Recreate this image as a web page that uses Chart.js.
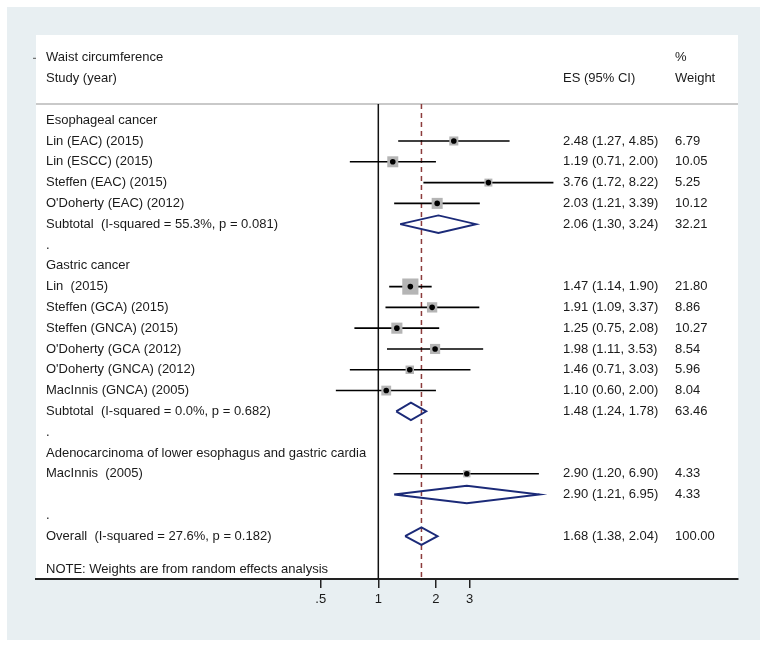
<!DOCTYPE html>
<html>
<head>
<meta charset="utf-8">
<title>Waist circumference forest plot</title>
<script src="https://cdn.jsdelivr.net/npm/chart.js@4.4.0/dist/chart.umd.min.js"></script>
<style>
  html, body { margin: 0; padding: 0; background: #fff; }
</style>
</head>
<body>
<canvas id="forest" width="767" height="648"></canvas>
<script>
// individual studies
var studyNames = ["Lin (EAC) (2015)", "Lin (ESCC) (2015)", "Steffen (EAC) (2015)", "O'Doherty (EAC) (2012)",
  "Lin  (2015)", "Steffen (GCA) (2015)", "Steffen (GNCA) (2015)", "O'Doherty (GCA (2012)",
  "O'Doherty (GNCA) (2012)", "MacInnis (GNCA) (2005)", "MacInnis  (2005)"];
var studyRows = [1, 2, 3, 4, 8, 9, 10, 11, 12, 13, 17];
var studyES = [2.48, 1.19, 3.76, 2.03, 1.47, 1.91, 1.25, 1.98, 1.46, 1.10, 2.90];
var studyLo = [1.27, 0.71, 1.72, 1.21, 1.14, 1.09, 0.75, 1.11, 0.71, 0.60, 1.20];
var studyHi = [4.85, 2.00, 8.22, 3.39, 1.90, 3.37, 2.08, 3.53, 3.03, 2.00, 6.90];
var studyWeight = [6.79, 10.05, 5.25, 10.12, 21.80, 8.86, 10.27, 8.54, 5.96, 8.04, 4.33];

// pooled estimates (diamonds)
var poolNames = ["Subtotal  (I-squared = 55.3%, p = 0.081)", "Subtotal  (I-squared = 0.0%, p = 0.682)", "",
  "Overall  (I-squared = 27.6%, p = 0.182)"];
var poolRows = [5, 14, 18, 20];
var poolES = [2.06, 1.48, 2.90, 1.68];
var poolLo = [1.30, 1.24, 1.21, 1.38];
var poolHi = [3.24, 1.78, 6.95, 2.04];
var poolWeight = [32.21, 63.46, 4.33, 100.00];

// group headings and spacer rows
var groupNames = ["Esophageal cancer", "Gastric cancer", "Adenocarcinoma of lower esophagus and gastric cardia"];
var groupRows = [0, 7, 16];
var dotRows = [6, 15, 19];

var xTicks = [0.5, 1, 2, 3];
var tickText = [".5", "1", "2", "3"];

// scale ranges
var xMin = 0.01628, xMax = 75.7;
var yMin = -4.096, yMax = 22.06;
var ruleRow = -0.78;
var overallES = poolES[3];

var bgColor = '#e8eff2';
var txtColor = '#1a1a1a';
var navy = '#1b2a78';

var datasets = [];

// reference lines
datasets.push({
  data: [{x: xMin, y: ruleRow}, {x: xMax, y: ruleRow}],
  showLine: true, borderColor: '#c9c9c9', borderWidth: 2, pointRadius: 0, order: 9
});
datasets.push({
  data: [{x: 1, y: ruleRow}, {x: 1, y: yMax}],
  showLine: true, borderColor: '#111', borderWidth: 1.5, pointRadius: 0, order: 8
});
datasets.push({
  data: [{x: overallES, y: ruleRow}, {x: overallES, y: yMax}],
  showLine: true, borderColor: '#8c3c3c', borderWidth: 1.5, borderDash: [5, 4], pointRadius: 0, order: 7
});

// confidence interval lines
for (var i = 0; i < studyRows.length; i++) {
  datasets.push({
    data: [{x: studyLo[i], y: studyRows[i]}, {x: studyHi[i], y: studyRows[i]}],
    showLine: true, borderColor: '#000', borderWidth: 1.6, pointRadius: 0, order: 5
  });
}

// weight boxes
datasets.push({
  data: studyRows.map(function(r, i) { return {x: studyES[i], y: r}; }),
  showLine: false, pointStyle: 'rect',
  pointRadius: studyWeight.map(function(w) { return 2.45 * Math.sqrt(w); }),
  backgroundColor: '#b5b5b5', borderWidth: 0, order: 4
});

// point estimates
datasets.push({
  data: studyRows.map(function(r, i) { return {x: studyES[i], y: r}; }),
  showLine: false, pointStyle: 'circle', pointRadius: 2.8,
  backgroundColor: '#000', borderWidth: 0, order: 3
});

// diamonds
for (var j = 0; j < poolRows.length; j++) {
  var r = poolRows[j];
  datasets.push({
    data: [{x: poolLo[j], y: r}, {x: poolES[j], y: r - 0.42}, {x: poolHi[j], y: r},
           {x: poolES[j], y: r + 0.42}, {x: poolLo[j], y: r}],
    showLine: true, borderColor: navy, borderWidth: 1.9, pointRadius: 0, order: 1
  });
}

var panelPlugin = {
  id: 'panel',
  beforeDraw: function(chart) {
    var ctx = chart.ctx, a = chart.chartArea;
    ctx.save();
    ctx.fillStyle = '#fff';
    ctx.fillRect(0, 0, chart.width, chart.height);
    ctx.fillStyle = bgColor;
    ctx.fillRect(7, 7, 753, 633);
    ctx.fillStyle = '#fff';
    ctx.fillRect(a.left, a.top, a.right - a.left, a.bottom - a.top);
    // small stray tick left of the title
    ctx.fillStyle = '#555';
    ctx.fillRect(a.left - 3, chart.scales.y.getPixelForValue(-3), 3, 1);
    ctx.restore();
  }
};

var textPlugin = {
  id: 'forestText',
  afterDraw: function(chart) {
    var ctx = chart.ctx, ys = chart.scales.y;
    ctx.save();
    ctx.font = '13px "Liberation Sans", Arial, sans-serif';
    ctx.fillStyle = txtColor;
    ctx.textBaseline = 'middle';
    function put(t, x, row) { ctx.fillText(t, x, ys.getPixelForValue(row)); }
    function ci(e, l, h) { return e.toFixed(2) + ' (' + l.toFixed(2) + ', ' + h.toFixed(2) + ')'; }

    put('Waist circumference', 46, -3);
    put('Study (year)', 46, -2);
    put('ES (95% CI)', 563, -2);
    put('%', 675, -3);
    put('Weight', 675, -2);

    groupNames.forEach(function(g, k) { put(g, 46, groupRows[k]); });
    dotRows.forEach(function(r) { put('.', 46, r); });
    studyNames.forEach(function(n, k) {
      put(n, 46, studyRows[k]);
      put(ci(studyES[k], studyLo[k], studyHi[k]), 563, studyRows[k]);
      put(studyWeight[k].toFixed(2), 675, studyRows[k]);
    });
    poolNames.forEach(function(n, k) {
      if (n) put(n, 46, poolRows[k]);
      put(ci(poolES[k], poolLo[k], poolHi[k]), 563, poolRows[k]);
      put(poolWeight[k].toFixed(2), 675, poolRows[k]);
    });
    put('NOTE: Weights are from random effects analysis', 46, 21.6);
    ctx.restore();
  }
};

new Chart(document.getElementById('forest'), {
  type: 'scatter',
  data: { datasets: datasets },
  plugins: [panelPlugin, textPlugin],
  options: {
    responsive: false,
    animation: false,
    layout: { padding: { left: 36, right: 29, top: 35, bottom: 0 } },
    plugins: { legend: { display: false }, tooltip: { enabled: false } },
    elements: { line: { tension: 0 } },
    scales: {
      x: {
        type: 'logarithmic',
        position: 'bottom',
        min: xMin,
        max: xMax,
        afterBuildTicks: function(s) { s.ticks = xTicks.map(function(v) { return {value: v}; }); },
        afterFit: function(s) { s.height = 648 - 579; },
        border: { display: true, color: '#222', width: 2 },
        grid: { drawOnChartArea: false, drawTicks: true, tickLength: 9, color: '#222', lineWidth: 1.5 },
        ticks: {
          autoSkip: false, maxRotation: 0, padding: 4, color: txtColor,
          font: { family: '"Liberation Sans", Arial, sans-serif', size: 13 },
          callback: function(v) { var k = xTicks.indexOf(v); return k >= 0 ? tickText[k] : ''; }
        }
      },
      y: {
        type: 'linear',
        display: false,
        reverse: true,
        min: yMin,
        max: yMax
      }
    }
  }
});
</script>
</body>
</html>
